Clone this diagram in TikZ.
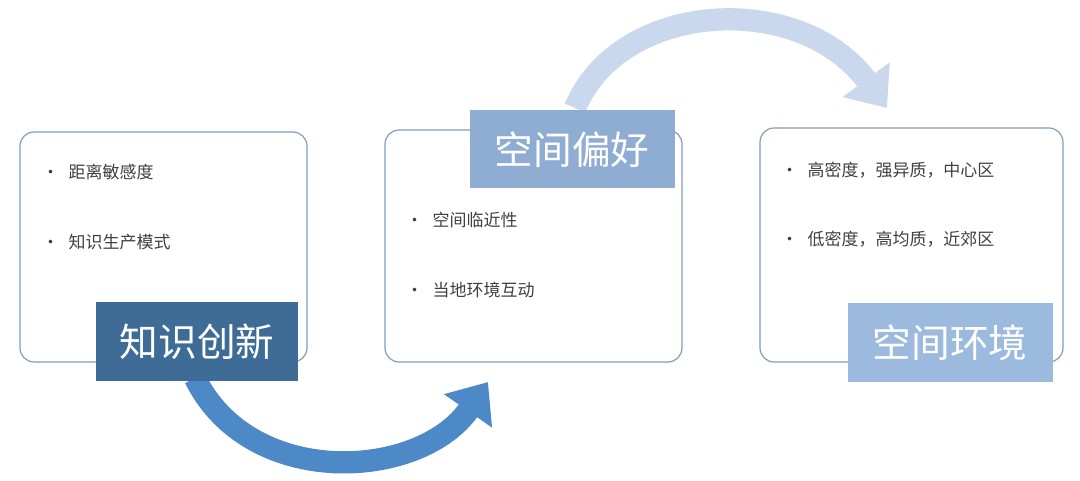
\documentclass[tikz,border=0pt]{standalone}
\usepackage{fontspec}
\setmainfont{Noto Sans CJK SC}
\usetikzlibrary{arrows.meta}
\definecolor{boxline}{HTML}{7F9CBE}
\definecolor{dark}{HTML}{3E6C97}
\definecolor{mid}{HTML}{8FADD2}
\definecolor{light}{HTML}{9CBADD}
\definecolor{arrowA}{HTML}{4C89C6}
\definecolor{arrowB}{HTML}{C9D8EC}
\definecolor{txt}{HTML}{404040}
\begin{document}
\begin{tikzpicture}[x=0.03cm,y=-0.03cm,
  panel/.style={draw=boxline,line width=1pt,rounded corners=12pt,fill=white},
  tag/.style={anchor=center,text=white,font=\fontsize{33}{36}\selectfont,inner sep=0pt},
  bul/.style={anchor=west,text=txt,font=\fontsize{14.5}{17}\selectfont,inner sep=0pt},
  bigarrow/.style={line width=19pt,-{Triangle[width=48pt,length=30pt]}}]
\useasboundingbox (0,0) rectangle (1080,481);
% arrows
\coordinate (a1s) at (195,378);
\coordinate (a1e) at (488,382);
\draw[bigarrow,arrowA] (a1s) .. controls (250,490) and (420,480) .. (a1e);
\coordinate (a2s) at (575,108);
\coordinate (a2e) at (887,108);
\draw[bigarrow,arrowB] (a2s) .. controls (620,0) and (800,-10) .. (a2e);
% panels
\draw[panel] (20,132) rectangle (307,362);
\draw[panel] (385,130) rectangle (682,362);
\draw[panel] (760,128) rectangle (1063,362);
% tags
\fill[dark] (96,302) rectangle (298,381);
\node[tag] (t1) at (197,342) {知识创新};
\fill[mid] (470,110) rectangle (675,188);
\node[tag] (t2) at (572,150) {空间偏好};
\fill[light] (848,303) rectangle (1053,382);
\node[tag] (t3) at (950,343) {空间环境};
% bullets
\node[bul] (b1) at (42,172) {•\hspace{8pt}距离敏感度};
\node[bul] (b2) at (42,242) {•\hspace{8pt}知识生产模式};
\node[bul] (b3) at (406,220) {•\hspace{8pt}空间临近性};
\node[bul] (b4) at (406,290) {•\hspace{8pt}当地环境互动};
\node[bul] (b5) at (781,170) {•\hspace{8pt}高密度，强异质，中心区};
\node[bul] (b6) at (781,239) {•\hspace{8pt}低密度，高均质，近郊区};
\end{tikzpicture}
\end{document}
